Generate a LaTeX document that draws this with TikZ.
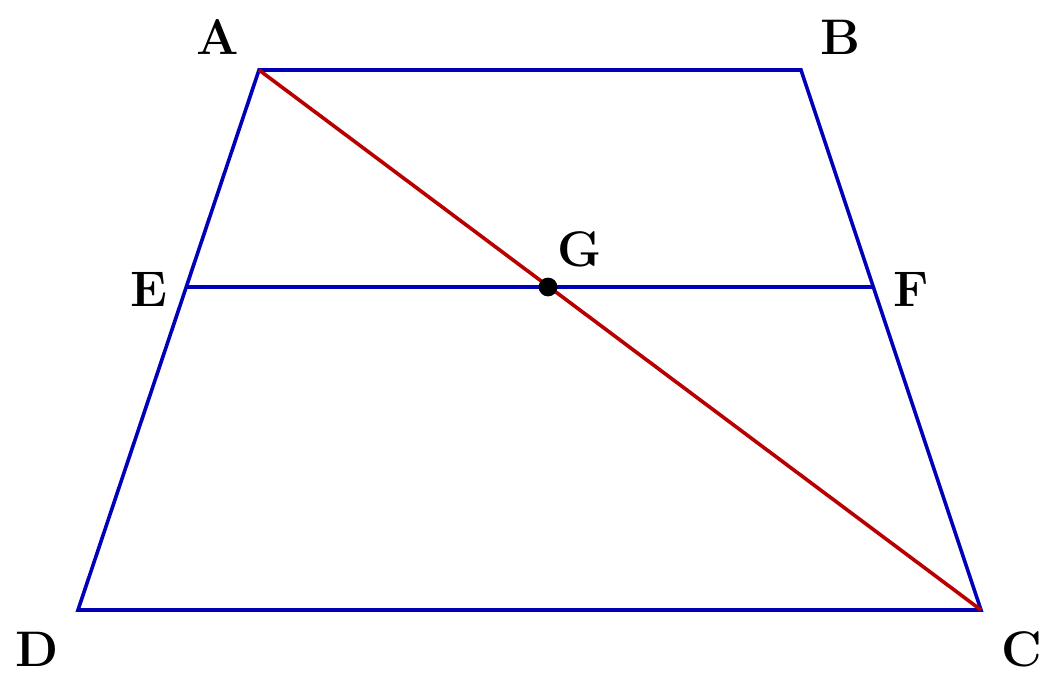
\documentclass[tikz,border=0pt]{standalone}
\usepackage{tikz}
\definecolor{tblue}{RGB}{0,0,185}
\definecolor{tred}{RGB}{185,0,0}
\begin{document}
\begin{tikzpicture}[x=0.5pt,y=-0.5pt,
  seg/.style={line width=1.8pt,tblue},
  diag/.style={line width=1.8pt,tred},
  lbl/.style={font=\fontsize{25}{30}\selectfont\bfseries,inner sep=0pt}]
\useasboundingbox (0,0) rectangle (1064,695);
\coordinate (A) at (259,70);
\coordinate (B) at (801,70);
\coordinate (C) at (981,610);
\coordinate (D) at (78,610);
\coordinate (E) at (186.3,287);
\coordinate (F) at (873.3,287);
\coordinate (G) at (548,287);
\draw[seg,line join=miter] (A) -- (B) -- (C) -- (D) -- cycle;
\draw[seg] (E) -- (F);
\draw[diag] (A) -- (C);
\fill (G) circle (4.7pt);
\node[lbl] (lA) at (218,37) {A};
\node[lbl] (lB) at (840,37) {B};
\node[lbl] (lC) at (1022,649) {C};
\node[lbl] (lD) at (37,649) {D};
\node[lbl] (lE) at (149,289) {E};
\node[lbl] (lF) at (911,289) {F};
\node[lbl] (lG) at (580,249) {G};
\end{tikzpicture}
\end{document}
